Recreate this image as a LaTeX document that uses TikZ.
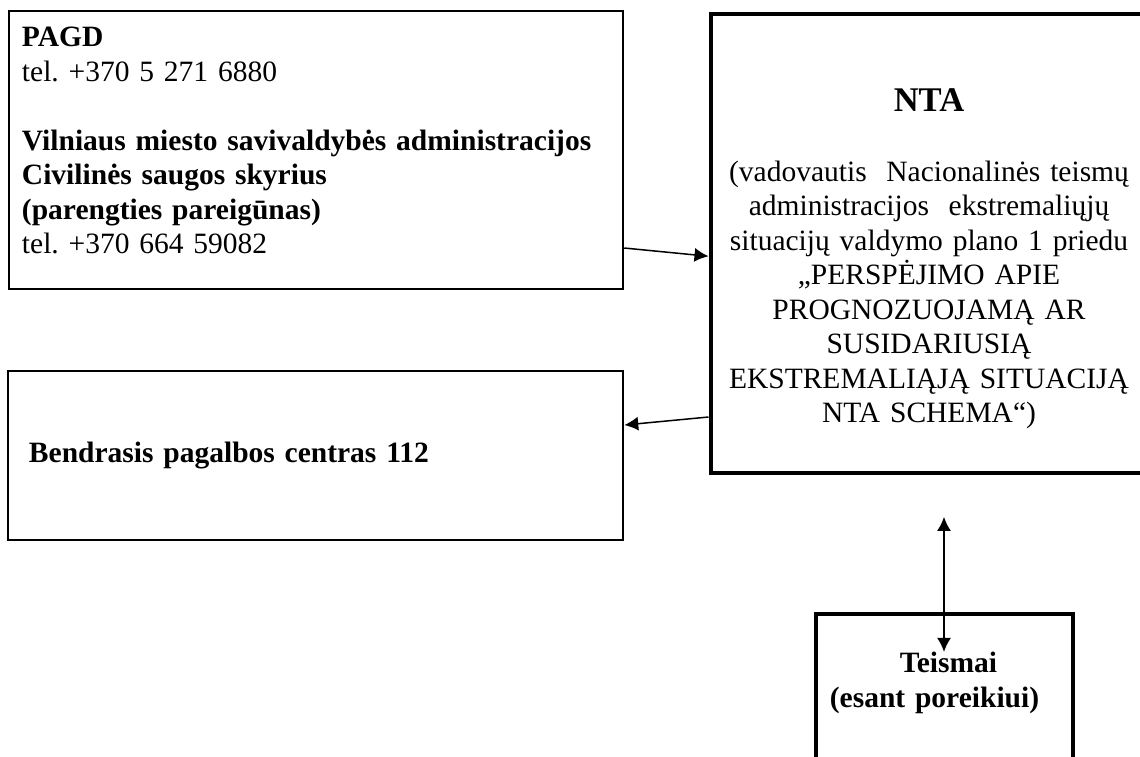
\documentclass[tikz,border=0pt]{standalone}
\usepackage{fontspec}
\setmainfont{Liberation Serif}
\usetikzlibrary{arrows.meta}
\frenchspacing

\begin{document}
\begin{tikzpicture}[x=0.4pt,y=-0.4pt,>={Latex[length=5.6pt,width=5.6pt]},
    every node/.style={font=\fontsize{11.8}{13.8}\selectfont},
    thinbox/.style={draw,line width=1pt,inner ysep=2pt},
    thickbox/.style={draw,line width=1.6pt,inner ysep=2pt,inner xsep=3.4pt,align=center},
    link/.style={line width=0.6pt}]
    \useasboundingbox (0,0) rectangle (1140,756);
    \node at (316,150)[thinbox,inner xsep=5.2pt,text width=235.2pt,minimum height=111.2pt,align=left] (pagd){\rule{0pt}{12pt}\textbf{PAGD}\\
      tel. +370 5 271 6880\\
      \mbox{}\\
      \textbf{Vilniaus miesto savivaldybės administracijos}\\
      \textbf{Civilinės saugos skyrius}\\
      \textbf{(parengties pareigūnas)}\\
      tel. +370 664 59082\rule[-12pt]{0pt}{0pt}};
    \node at (315.5,455.5)[thinbox,inner xsep=8.4pt,text width=229.2pt,minimum height=67.6pt,align=left] (bpc){\strut\textbf{Bendrasis pagalbos centras 112}};
    \node at (929,243.25)[thickbox,text width=168pt,minimum height=183.8pt] (nta){\rule{0pt}{21.6pt}{\fontsize{13.84}{16}\selectfont\bfseries NTA}\\[14.2pt]
      (vadovautis\ \ Nacionalinės teismų\\
      administracijos\ \ ekstremaliųjų\\
      situacijų valdymo plano 1 priedu\\
      „PERSPĖJIMO APIE\\
      PROGNOZUOJAMĄ AR\\
      SUSIDARIUSIĄ\\
      EKSTREMALIĄJĄ SITUACIJĄ\\
      NTA SCHEMA“)};
    \node at (944,688)[thickbox,text width=96pt,minimum height=59.1pt] (tsm){\strut\hspace*{3.6pt}\textbf{Teismai}\\
      \textbf{(esant poreikiui)}\hspace*{7.6pt}\rule[-8pt]{0pt}{0pt}};
    \draw[->,link] ([yshift=-39.2pt]pagd.east) -- ([yshift=-5.2pt]nta.west);
    \draw[->,link] ([yshift=-69.5pt]nta.west) -- ([yshift=12.2pt]bpc.east);
    \draw[<->,link] ([yshift=38.1pt]tsm.north) -- ([yshift=-15.9pt]tsm.north);
\end{tikzpicture}
\end{document}
